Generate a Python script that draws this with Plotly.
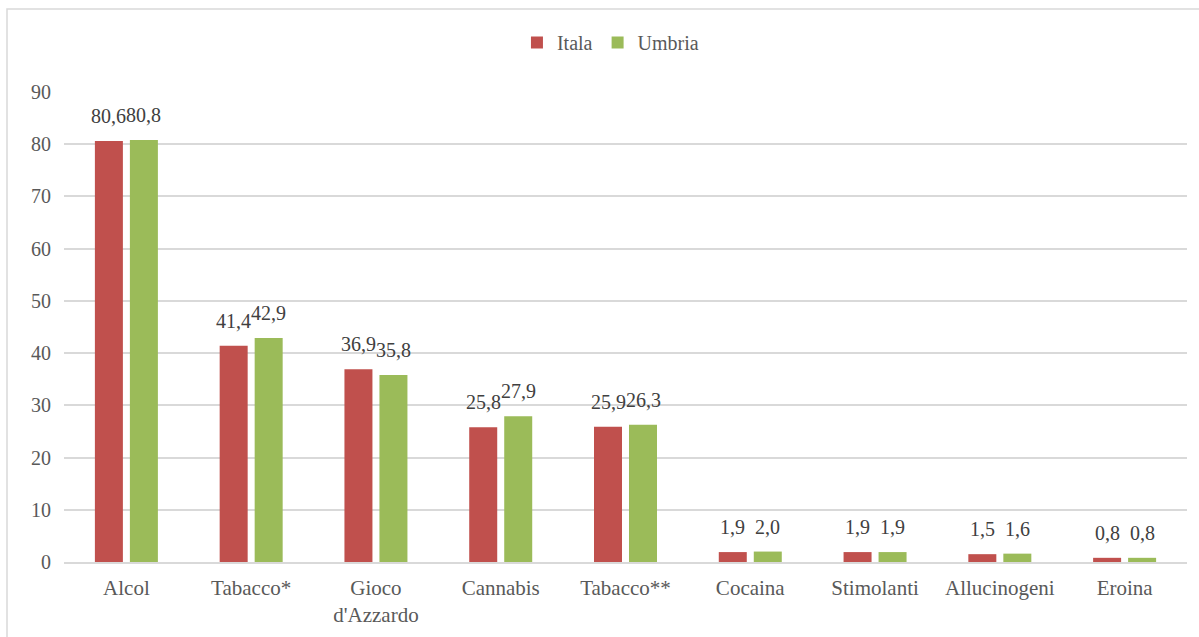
import plotly.graph_objects as go

categories = ["Alcol", "Tabacco*", "Gioco<br>d'Azzardo", "Cannabis", "Tabacco**",
              "Cocaina", "Stimolanti", "Allucinogeni", "Eroina"]
italia = [80.6, 41.4, 36.9, 25.8, 25.9, 1.9, 1.9, 1.5, 0.8]
umbria = [80.8, 42.9, 35.8, 27.9, 26.3, 2.0, 1.9, 1.6, 0.8]
series_names = ["Itala", "Umbria"]
yticks = [0, 10, 20, 30, 40, 50, 60, 70, 80, 90]

FONT = "Liberation Serif"
GRAY = "#595959"
LABEL = "#404040"

def fmt(v):
    return f"{v:.1f}".replace(".", ",")

fig = go.Figure()
for name, vals, col in [(series_names[0], italia, "#C0504D"), (series_names[1], umbria, "#9BBB59")]:
    fig.add_trace(go.Bar(
        name=name, x=categories, y=vals,
        marker=dict(color=col, line=dict(width=0)),
        cliponaxis=False,
    ))

# data labels positioned from the data values
for vals, shift in [(italia, -17.5), (umbria, 17.5)]:
    for c, v in zip(categories, vals):
        fig.add_annotation(x=c, y=v, text=fmt(v), showarrow=False,
                           xshift=shift, yshift=12, yanchor="bottom",
                           font=dict(family=FONT, size=20, color=LABEL))

fig.update_layout(
    width=1199, height=637,
    margin=dict(l=64, r=12, t=92, b=75, autoexpand=False),
    paper_bgcolor="white", plot_bgcolor="white",
    barmode="group", bargap=0.439, bargroupgap=0.2,
    font=dict(family=FONT, size=20, color=GRAY),
    legend=dict(orientation="h", x=0.4866, xanchor="center",
                y=1 + (92 - 62) / 470, yanchor="bottom",
                font=dict(family=FONT, size=20, color=GRAY),
                traceorder="normal", itemwidth=30),
    showlegend=True,
    xaxis=dict(showgrid=False, showline=True, linecolor="#D9D9D9", linewidth=1.5,
               ticks="", tickfont=dict(family=FONT, size=21, color=GRAY),
               ticklabelstandoff=6, automargin=False),
    yaxis=dict(range=[0, 90], tickvals=yticks, showgrid=True, gridcolor="#D9D9D9",
               gridwidth=1.5, zeroline=False, showline=False, ticks="",
               tickfont=dict(family=FONT, size=20, color=GRAY), ticklabelstandoff=12,
               automargin=False),
)
fig.add_shape(type="rect", xref="paper", yref="paper",
              x0=-57/1123, x1=1 + 40/1123, y0=-100/470, y1=1 + 83/470,
              line=dict(color="#D9D9D9", width=1.5), fillcolor="rgba(0,0,0,0)", layer="below")
fig.write_html("out.html")
